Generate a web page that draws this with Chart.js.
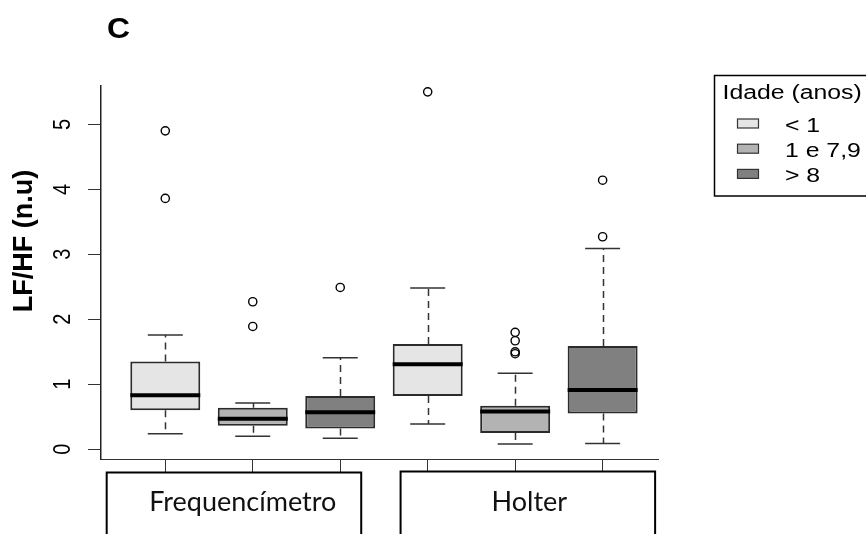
<!DOCTYPE html>
<html>
<head>
<meta charset="utf-8">
<script src="https://cdn.jsdelivr.net/npm/chart.js@4.4.1/dist/chart.umd.min.js"></script>
<style>
  html, body { margin: 0; padding: 0; background: #fff; }
</style>
</head>
<body>
<canvas id="lfhfChart" width="866" height="534"></canvas>
<script>
const devices = ['Frequencímetro', 'Holter'];
const ageGroups = ['< 1', '1 e 7,9', '> 8'];
const ageColors = ['#e5e5e5', '#b3b3b3', '#808080'];

// one value per box: Frequencímetro (<1, 1 e 7,9, >8), then Holter in the same order
const lowerWhisker = [0.24, 0.20, 0.17, 0.39, 0.08, 0.09];
const q1 = [0.60, 0.36, 0.32, 0.82, 0.25, 0.55];
const median = [0.83, 0.47, 0.57, 1.31, 0.58, 0.91];
const q3 = [1.35, 0.64, 0.82, 1.62, 0.67, 1.59];
const upperWhisker = [1.76, 0.71, 1.41, 2.48, 1.17, 3.09];
const outliers = [[4.90, 3.86], [2.27, 1.89], [2.49], [5.50], [1.80, 1.67, 1.50, 1.47], [4.14, 3.27]];

const yTicks = [0, 1, 2, 3, 4, 5];
const boxPositions = [1, 2, 3, 4, 5, 6];

const FONT = '"Liberation Sans", Arial, sans-serif';
const LABEL_FONT = 'Lato, "Open Sans", sans-serif';

// horizontally stretched text, the way the R device output looks
function stretchText(ctx, text, x, y, sx, rot) {
  ctx.save();
  ctx.translate(x, y);
  if (rot) ctx.rotate(rot);
  if (rot) ctx.scale(1, sx); else ctx.scale(sx, 1);
  ctx.fillText(text, 0, 0);
  ctx.restore();
}

const barSets = ageGroups.map((age, a) => ({
  type: 'bar',
  label: age,
  data: devices.map((d, g) => {
    const k = g * 3 + a;
    return { x: boxPositions[k], y: [q1[k], q3[k]] };
  }),
  backgroundColor: ageColors[a],
  borderColor: '#2b2b2b',
  borderWidth: 2,
  borderSkipped: false,
  grouped: false,
  categoryPercentage: 1,
  barPercentage: 0.8
}));

const outlierPoints = [];
outliers.forEach((vals, k) => vals.forEach(v => outlierPoints.push({ x: boxPositions[k], y: v })));

const boxParts = {
  id: 'boxParts',
  afterDatasetsDraw(chart) {
    const ctx = chart.ctx;
    const ys = chart.scales.y;
    ctx.save();
    barSets.forEach((ds, a) => {
      const meta = chart.getDatasetMeta(a);
      meta.data.forEach((bar, g) => {
        const k = g * 3 + a;
        const half = bar.width / 2;
        const cap = bar.width / 4;
        const cx = Math.round(bar.x) + 0.5;
        // dashed whiskers
        ctx.strokeStyle = '#333';
        ctx.lineWidth = 1.5;
        ctx.setLineDash([7, 5]);
        ctx.beginPath();
        ctx.moveTo(cx, ys.getPixelForValue(q3[k]));
        ctx.lineTo(cx, ys.getPixelForValue(upperWhisker[k]));
        ctx.moveTo(cx, ys.getPixelForValue(q1[k]));
        ctx.lineTo(cx, ys.getPixelForValue(lowerWhisker[k]));
        ctx.stroke();
        // staples
        ctx.setLineDash([]);
        ctx.beginPath();
        [upperWhisker[k], lowerWhisker[k]].forEach(v => {
          const py = ys.getPixelForValue(v);
          ctx.moveTo(bar.x - cap, py);
          ctx.lineTo(bar.x + cap, py);
        });
        ctx.stroke();
        // median
        ctx.strokeStyle = '#000';
        ctx.lineWidth = 4;
        ctx.beginPath();
        const my = ys.getPixelForValue(median[k]);
        ctx.moveTo(bar.x - half, my);
        ctx.lineTo(bar.x + half, my);
        ctx.stroke();
      });
    });
    ctx.restore();
  },
  afterDraw(chart) {
    const ctx = chart.ctx;
    const xs = chart.scales.x;
    const ys = chart.scales.y;
    ctx.save();
    ctx.fillStyle = '#000';

    // panel letter
    ctx.font = 'bold 29px ' + FONT;
    ctx.textAlign = 'center';
    ctx.textBaseline = 'alphabetic';
    stretchText(ctx, 'C', 118.5, 38, 1.1);

    // y tick labels, reading upwards
    ctx.font = '20px ' + FONT;
    ys.ticks.forEach(t => {
      const py = ys.getPixelForValue(t.value);
      stretchText(ctx, String(t.value), 70, py, 1.15, -Math.PI / 2);
    });

    // y axis title
    ctx.font = 'bold 27px ' + FONT;
    stretchText(ctx, 'LF/HF (n.u)', 32, 241, 1.0, -Math.PI / 2);

    // device boxes under the axis
    const spans = [[0.33, 3.24, 472.5, 1.886], [3.69, 6.60, 471.5, 5.162]];
    ctx.strokeStyle = '#000';
    ctx.lineWidth = 2;
    ctx.font = '27px ' + LABEL_FONT;
    ctx.fillStyle = '#111';
    spans.forEach(([a, b, top, mid], i) => {
      const x0 = xs.getPixelForValue(a);
      const x1 = xs.getPixelForValue(b);
      ctx.beginPath();
      ctx.moveTo(x0, 540);
      ctx.lineTo(x0, top);
      ctx.lineTo(x1, top);
      ctx.lineTo(x1, 540);
      ctx.stroke();
      ctx.fillText(devices[i], xs.getPixelForValue(mid), 511);
    });

    // legend
    ctx.lineWidth = 1.5;
    ctx.strokeRect(714.5, 75.5, 200, 120.5);
    ctx.fillStyle = '#000';
    ctx.textAlign = 'left';
    ctx.font = '20px ' + FONT;
    stretchText(ctx, 'Idade (anos)', 722.5, 99, 1.24);
    ctx.font = '20px ' + FONT;
    barSets.forEach((ds, a) => {
      const cy = 123.5 + a * 25.2;
      ctx.fillStyle = ds.backgroundColor;
      ctx.fillRect(737.5, cy - 4.5, 21, 9);
      ctx.strokeStyle = '#333';
      ctx.lineWidth = 1.2;
      ctx.strokeRect(737.5, cy - 4.5, 21, 9);
      ctx.fillStyle = '#000';
      stretchText(ctx, ds.label, 785, cy + 8.5, 1.24);
    });
    ctx.restore();
  }
};

new Chart(document.getElementById('lfhfChart'), {
  data: {
    datasets: [
      ...barSets,
      {
        type: 'scatter',
        label: 'outliers',
        data: outlierPoints,
        pointStyle: 'circle',
        pointRadius: 4.1,
        pointBorderWidth: 1.4,
        borderColor: '#000',
        backgroundColor: 'rgba(0,0,0,0)'
      }
    ]
  },
  options: {
    responsive: false,
    animation: false,
    layout: { padding: { left: 0, top: 86, right: 208, bottom: 0 } },
    plugins: { legend: { display: false }, tooltip: { enabled: false } },
    scales: {
      x: {
        type: 'linear',
        offset: false,
        min: 0.265,
        max: 6.633,
        afterBuildTicks: s => { s.ticks = boxPositions.map(v => ({ value: v })); },
        afterFit: s => { s.height = 75; },
        ticks: { display: false },
        grid: { offset: false, drawOnChartArea: false, drawTicks: true, tickLength: 13, color: '#333', lineWidth: 1 },
        border: { display: true, color: '#333', width: 1 }
      },
      y: {
        type: 'linear',
        min: -0.15,
        max: 5.59,
        afterBuildTicks: s => { s.ticks = yTicks.map(v => ({ value: v })); },
        afterFit: s => { s.width = 101; },
        ticks: { display: false },
        grid: { drawOnChartArea: false, drawTicks: true, tickLength: 13, color: '#333', lineWidth: 1 },
        border: { display: true, color: '#222', width: 1.5 }
      }
    }
  },
  plugins: [boxParts]
});
</script>
</body>
</html>
